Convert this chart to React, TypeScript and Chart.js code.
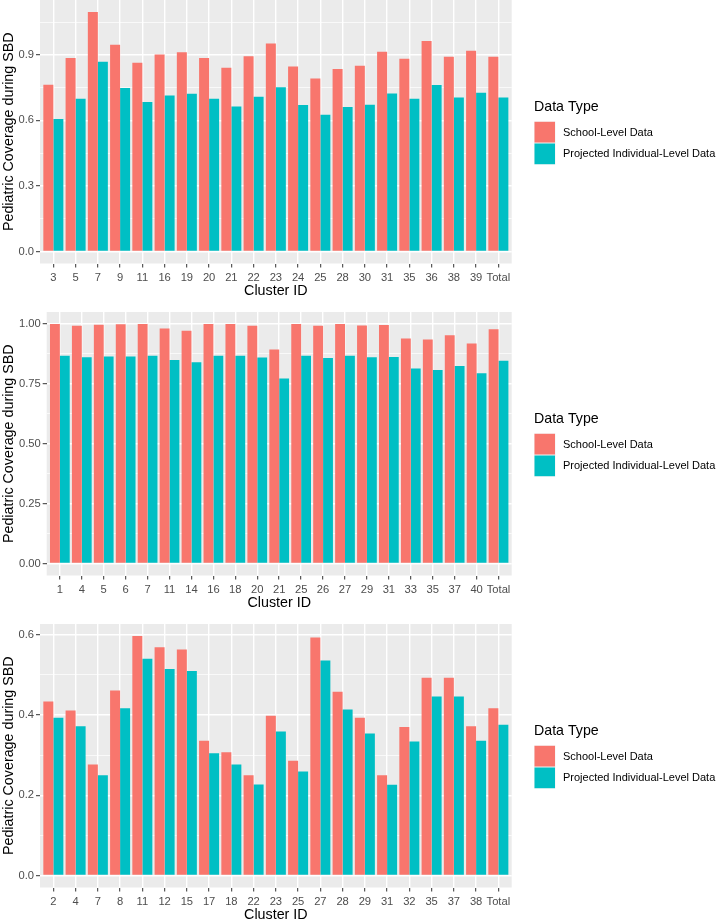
import React, { useEffect, useRef } from 'react';
import { Chart, registerables } from 'chart.js';

Chart.register(...registerables);

const FONT = "'Liberation Sans', Arial, Helvetica, sans-serif";
const SCHOOL_COLOR = '#F8766D';
const INDIV_COLOR = '#00BFC4';
const PANEL_BG = '#EBEBEB';
const AXIS_TEXT = '#4D4D4D';
const TICK_MARK = '#333333';

const seriesNames = ['School-Level Data', 'Projected Individual-Level Data'];
const legendTitle = 'Data Type';
const xTitle = 'Cluster ID';
const yTitle = 'Pediatric Coverage during SBD';

// Panel 1
const clustersA = ['3', '5', '7', '9', '11', '16', '19', '20', '21', '22', '23', '24', '25', '28', '30', '31', '35', '36', '38', '39', 'Total'];
const schoolA = [0.763, 0.885, 1.096, 0.946, 0.864, 0.902, 0.912, 0.886, 0.841, 0.894, 0.952, 0.847, 0.792, 0.835, 0.85, 0.914, 0.882, 0.963, 0.891, 0.919, 0.891];
const indivA = [0.606, 0.699, 0.868, 0.748, 0.684, 0.714, 0.722, 0.699, 0.664, 0.708, 0.752, 0.67, 0.626, 0.661, 0.671, 0.723, 0.699, 0.762, 0.705, 0.727, 0.705];
const yTicksA = [0, 0.3, 0.6, 0.9];
const yTickLabelsA = ['0.0', '0.3', '0.6', '0.9'];

// Panel 2
const clustersB = ['1', '4', '5', '6', '7', '11', '14', '16', '18', '20', '21', '25', '26', '27', '29', '31', '33', '35', '37', '40', 'Total'];
const schoolB = [1.0, 0.993, 0.997, 0.999, 1.0, 0.981, 0.972, 1.0, 1.0, 0.993, 0.893, 1.0, 0.993, 1.0, 0.994, 0.996, 0.939, 0.935, 0.953, 0.918, 0.978];
const indivB = [0.867, 0.861, 0.864, 0.864, 0.867, 0.85, 0.84, 0.867, 0.867, 0.86, 0.772, 0.867, 0.858, 0.867, 0.861, 0.862, 0.814, 0.808, 0.825, 0.794, 0.846];
const yTicksB = [0, 0.25, 0.5, 0.75, 1.0];
const yTickLabelsB = ['0.00', '0.25', '0.50', '0.75', '1.00'];

// Panel 3
const clustersC = ['2', '4', '7', '8', '11', '12', '15', '17', '18', '22', '23', '25', '27', '28', '29', '31', '32', '35', '37', '38', 'Total'];
const schoolC = [0.434, 0.411, 0.277, 0.461, 0.597, 0.569, 0.563, 0.336, 0.307, 0.25, 0.398, 0.286, 0.593, 0.458, 0.393, 0.25, 0.37, 0.493, 0.493, 0.372, 0.417];
const indivC = [0.393, 0.372, 0.25, 0.417, 0.54, 0.515, 0.51, 0.305, 0.277, 0.227, 0.359, 0.259, 0.536, 0.414, 0.354, 0.226, 0.334, 0.446, 0.446, 0.336, 0.376];
const yTicksC = [0, 0.2, 0.4, 0.6];
const yTickLabelsC = ['0.0', '0.2', '0.4', '0.6'];

const CANVAS_W = 720;
const CANVAS_H = 312;
const PLOT_RIGHT = 511.7;
const PLOT_H = 263.5;
const X_AXIS_H = 36;

const bgPlugin = {
  id: 'ggBackground',
  beforeDraw(chart: any) {
    const { ctx, chartArea } = chart;
    ctx.save();
    ctx.fillStyle = PANEL_BG;
    ctx.fillRect(chartArea.left, chartArea.top, chartArea.right - chartArea.left, chartArea.bottom - chartArea.top);
    ctx.restore();
  },
};

const legendPlugin = {
  id: 'ggLegend',
  afterDraw(chart: any) {
    const { ctx, chartArea } = chart;
    const x0 = chartArea.right + 22.3;
    const top = chartArea.top;
    ctx.save();
    ctx.textAlign = 'left';
    ctx.textBaseline = 'middle';
    ctx.fillStyle = '#000000';
    ctx.font = `14.2px ${FONT}`;
    ctx.fillText(legendTitle, x0, top + 106.7);
    const keyH = 21.7;
    chart.data.datasets.forEach((ds: any, i: number) => {
      const y = top + 121.3 + i * keyH;
      ctx.fillStyle = '#F2F2F2';
      ctx.fillRect(x0, y, 21.5, keyH);
      ctx.fillStyle = ds.backgroundColor;
      ctx.fillRect(x0 + 0.5, y + 0.5, 20.5, keyH - 1);
      ctx.fillStyle = '#000000';
      ctx.font = `11px ${FONT}`;
      ctx.fillText(ds.label, x0 + 29, y + keyH / 2 + 0.5);
    });
    ctx.restore();
  },
};

type PanelProps = {
  clusters: string[];
  school: number[];
  indiv: number[];
  yTicks: number[];
  yTickLabels: string[];
  yAxisWidth: number;
  top: number;
};

function Panel(props: PanelProps) {
  const ref = useRef<HTMLCanvasElement | null>(null);
  useEffect(() => {
    const { clusters, school, indiv, yTicks, yTickLabels, yAxisWidth } = props;
    if (!ref.current) return;
    const maxV = Math.max(...school, ...indiv);
    const yMin = -0.05 * maxV;
    const yMax = 1.05 * maxV;
    const step = yTicks[1] - yTicks[0];
    const allTicks: number[] = [];
    for (let k = -1; k <= (yTicks.length - 1) * 2 + 1; k++) {
      const v = +(yTicks[0] + (k * step) / 2).toFixed(6);
      if (v >= yMin && v <= yMax) allTicks.push(v);
    }
    const majorIndex = (v: number) => yTicks.findIndex((t) => Math.abs(t - v) < 1e-6);
    const isMajorCtx = (c: any) => c.tick && majorIndex(c.tick.value) >= 0;

    const chart = new Chart(ref.current, {
      type: 'bar',
      data: {
        datasets: [
          {
            label: seriesNames[0],
            data: school.map((v, i) => ({ x: i + 1, y: v })),
            backgroundColor: SCHOOL_COLOR,
            borderWidth: 0,
          },
          {
            label: seriesNames[1],
            data: indiv.map((v, i) => ({ x: i + 1, y: v })),
            backgroundColor: INDIV_COLOR,
            borderWidth: 0,
          },
        ],
      },
      options: {
        animation: false,
        responsive: false,
        devicePixelRatio: 1,
        events: [],
        layout: {
          padding: { left: 0, top: 0, right: CANVAS_W - PLOT_RIGHT, bottom: CANVAS_H - PLOT_H - X_AXIS_H },
        },
        datasets: {
          bar: { categoryPercentage: 0.9, barPercentage: 1.0 },
        },
        plugins: {
          legend: { display: false },
          tooltip: { enabled: false },
        },
        scales: {
          x: {
            type: 'linear',
            min: 0.4,
            max: clusters.length + 0.6,
            offset: false,
            afterBuildTicks: (s: any) => {
              s.ticks = clusters.map((_, i) => ({ value: i + 1 }));
            },
            afterFit: (s: any) => {
              s.height = X_AXIS_H;
              s.paddingLeft = 0;
              s.paddingRight = 0;
            },
            ticks: {
              autoSkip: false,
              maxRotation: 0,
              minRotation: 0,
              padding: 4,
              color: AXIS_TEXT,
              font: { family: FONT, size: 11.2 },
              callback: (v: any) => clusters[Math.round(Number(v)) - 1] ?? '',
            },
            grid: {
              offset: false,
              color: '#FFFFFF',
              lineWidth: 1.4,
              drawTicks: true,
              tickLength: 4,
              tickColor: TICK_MARK,
              tickWidth: 1,
            },
            border: { display: false },
            title: {
              display: true,
              text: xTitle,
              color: '#000000',
              font: { family: FONT, size: 14.3 },
              padding: 0,
            },
          },
          y: {
            type: 'linear',
            min: yMin,
            max: yMax,
            afterBuildTicks: (s: any) => {
              s.ticks = allTicks.map((v) => ({ value: v }));
            },
            afterFit: (s: any) => {
              s.width = yAxisWidth;
              s.paddingTop = 0;
              s.paddingBottom = 0;
            },
            ticks: {
              autoSkip: false,
              padding: 2,
              color: AXIS_TEXT,
              font: { family: FONT, size: 11.2 },
              callback: (v: any) => {
                const i = majorIndex(Number(v));
                return i >= 0 ? yTickLabels[i] : '';
              },
            },
            grid: {
              color: '#FFFFFF',
              lineWidth: (c: any) => (isMajorCtx(c) ? 1.4 : 0.7),
              drawTicks: true,
              tickLength: 4,
              tickColor: (c: any) => (isMajorCtx(c) ? TICK_MARK : 'rgba(0,0,0,0)'),
              tickWidth: 1,
            },
            border: { display: false },
            title: {
              display: true,
              text: yTitle,
              color: '#000000',
              font: { family: FONT, size: 14.3 },
              padding: 0,
            },
          },
        },
      } as any,
      plugins: [bgPlugin, legendPlugin],
    });
    return () => chart.destroy();
  }, []);

  return (
    <div style={{ position: 'absolute', left: 0, top: props.top, width: CANVAS_W, height: CANVAS_H }}>
      <canvas ref={ref} width={CANVAS_W} height={CANVAS_H} style={{ display: 'block' }} />
    </div>
  );
}

export default function App() {
  return (
    <div
      style={{
        position: 'absolute',
        left: 0,
        top: 0,
        width: 720,
        height: 920,
        overflow: 'hidden',
        background: '#FFFFFF',
        fontFamily: FONT,
      }}
    >
      <Panel clusters={clustersA} school={schoolA} indiv={indivA} yTicks={yTicksA} yTickLabels={yTickLabelsA} yAxisWidth={40} top={0} />
      <Panel clusters={clustersB} school={schoolB} indiv={indivB} yTicks={yTicksB} yTickLabels={yTickLabelsB} yAxisWidth={46.7} top={312} />
      <Panel clusters={clustersC} school={schoolC} indiv={indivC} yTicks={yTicksC} yTickLabels={yTickLabelsC} yAxisWidth={40} top={624} />
    </div>
  );
}
